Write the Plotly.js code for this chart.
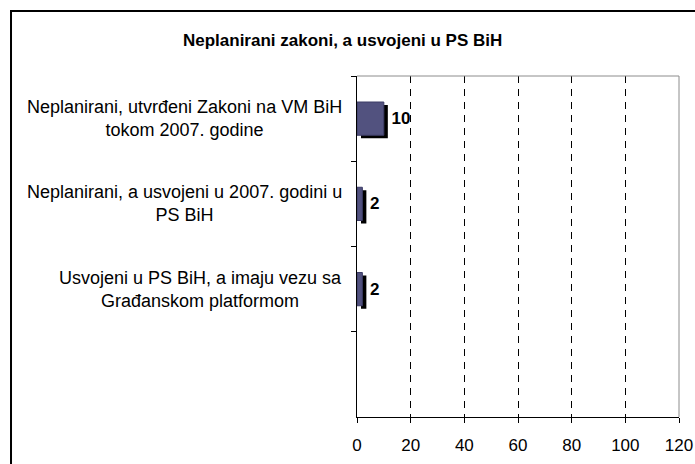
<!DOCTYPE html>
<html>
<head>
<meta charset="utf-8">
<script src="https://cdn.plot.ly/plotly-3.0.1.min.js"></script>
<style>
  body { margin: 0; background: white; }
  #chart { width: 695px; height: 464px; }
</style>
</head>
<body>
<div id="chart"></div>
<script>
const categories = ['c1', 'c2', 'c3', 'c4'];
const labels = [
    'Neplanirani, utvrđeni Zakoni na VM BiH<br>tokom 2007. godine',
    'Neplanirani, a usvojeni u 2007. godini u<br>PS BiH',
    'Usvojeni u PS BiH, a imaju vezu sa<br>Građanskom platformom',
    ''
];
const values = [10, 2, 2, null];
const xTicks = [0, 20, 40, 60, 80, 100, 120];

const font = '"Liberation Sans", Arial, sans-serif';
const plotW = 322, plotH = 341;
const shiftX = 4 * 120 / plotW;   // shadow offset, 4px right
const shiftY = 3 * 4 / plotH;     // shadow offset, 3px down

const shadow = {
    type: 'bar',
    orientation: 'h',
    x: values,
    y: categories,
    xaxis: 'x2',
    yaxis: 'y2',
    width: 0.39,
    marker: { color: 'black' },
    hoverinfo: 'skip',
    showlegend: false
};

const bars = {
    type: 'bar',
    orientation: 'h',
    x: values,
    y: categories,
    xaxis: 'x3',
    yaxis: 'y3',
    width: 0.39,
    marker: { color: '#52527f', line: { color: '#3c3c66', width: 1 } },
    text: values.map(v => v == null ? '' : ' ' + v),
    textposition: 'outside',
    textfont: { family: font, size: 17, color: 'black', weight: 'bold' },
    constraintext: 'none',
    cliponaxis: false,
    showlegend: false
};

const annotations = categories.map((c, i) => ({
    xref: 'paper', yref: 'y',
    x: -0.04, y: c,
    xanchor: 'right', yanchor: 'middle',
    align: 'center',
    text: labels[i],
    showarrow: false,
    font: { family: font, size: 18, color: 'black' }
}));

const hiddenAxis = { showgrid: false, showline: false, showticklabels: false, ticks: '', zeroline: false, fixedrange: true };

Plotly.newPlot('chart', [shadow, bars], {
    width: 695,
    height: 464,
    margin: { l: 357, r: 16, t: 76, b: 47 },
    paper_bgcolor: 'white',
    plot_bgcolor: 'white',
    font: { family: font, color: 'black' },
    title: {
        text: '<b>Neplanirani zakoni, a usvojeni u PS BiH</b>',
        font: { family: font, size: 17, color: 'black' },
        x: 0.493, xanchor: 'center',
        y: 0.914, yanchor: 'middle'
    },
    xaxis: {
        range: [0, 120],
        tickvals: xTicks,
        ticks: 'outside', ticklen: 5, tickcolor: 'black',
        ticklabelstandoff: 8,
        showline: true, linecolor: 'black', linewidth: 1,
        showgrid: true, gridcolor: 'black', griddash: '7px,6px', gridwidth: 1,
        zeroline: false,
        tickfont: { family: font, size: 17, color: 'black' }
    },
    yaxis: {
        type: 'category',
        categoryorder: 'array', categoryarray: categories,
        range: [3.5, -0.5],
        showticklabels: false,
        ticks: 'outside', ticklen: 5, tickcolor: 'black', tickson: 'boundaries',
        showline: true, linecolor: 'black', linewidth: 1,
        showgrid: false, zeroline: false
    },
    xaxis2: Object.assign({ overlaying: 'x', range: [-shiftX, 120 - shiftX] }, hiddenAxis),
    yaxis2: Object.assign({ overlaying: 'y', type: 'category', categoryorder: 'array', categoryarray: categories,
        range: [3.5 - shiftY, -0.5 - shiftY] }, hiddenAxis),
    xaxis3: Object.assign({ overlaying: 'x', range: [0, 120] }, hiddenAxis),
    yaxis3: Object.assign({ overlaying: 'y', type: 'category', categoryorder: 'array', categoryarray: categories,
        range: [3.5, -0.5] }, hiddenAxis),
    annotations: annotations,
    shapes: [
        // grey frame on top and right of the plot area
        { type: 'line', xref: 'paper', yref: 'paper', x0: 0, x1: 1, y0: 1, y1: 1, line: { color: '#8c8c8c', width: 1 } },
        { type: 'line', xref: 'paper', yref: 'paper', x0: 1, x1: 1, y0: 0, y1: 1, line: { color: '#8c8c8c', width: 1 } },
        // outer chart border
        { type: 'rect', xref: 'paper', yref: 'paper', x0: -1.0745, x1: 1.08, y0: -0.16, y1: 1.1906,
          line: { color: 'black', width: 2 }, layer: 'below' }
    ]
}, { displayModeBar: false, staticPlot: true });
</script>
</body>
</html>
